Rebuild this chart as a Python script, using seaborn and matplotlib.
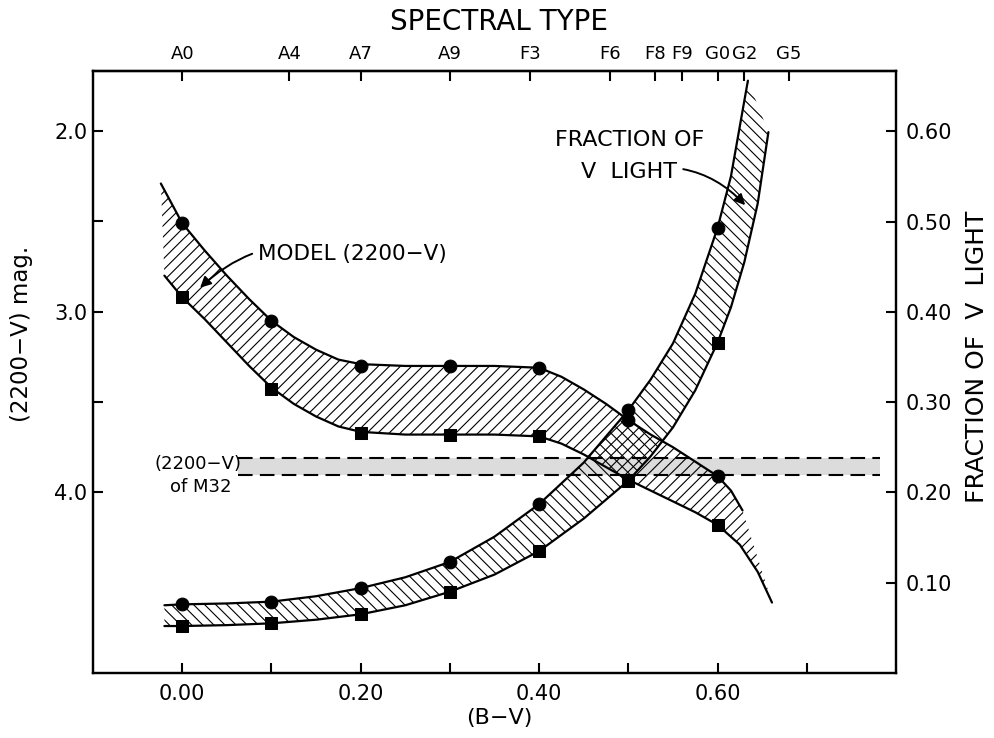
import numpy as np
import matplotlib
matplotlib.use("Agg")
import matplotlib.pyplot as plt
import seaborn as sns

# points (B-V, model 2200-V mag, fraction of V light)
bv = [0.0, 0.1, 0.2, 0.3, 0.4, 0.5, 0.6]
model_circ = [2.51, 3.05, 3.30, 3.30, 3.31, 3.60, 3.91]
model_sq = [2.92, 3.43, 3.67, 3.68, 3.69, 3.93, 4.18]
frac_circ = [0.076, 0.079, 0.094, 0.123, 0.187, 0.291, 0.493]
frac_sq = [0.052, 0.055, 0.065, 0.090, 0.135, 0.213, 0.366]

# traced curves (edges of the hatched bands)
model_up_x = [-0.024, -0.012, 0.0, 0.025, 0.05, 0.075, 0.1, 0.125, 0.15, 0.175, 0.2, 0.25, 0.3,
              0.35, 0.4, 0.425, 0.45, 0.475, 0.5, 0.525, 0.55, 0.575, 0.6, 0.615, 0.628]
model_up = [2.29, 2.40, 2.51, 2.66, 2.80, 2.93, 3.05, 3.14, 3.21, 3.265, 3.29, 3.30, 3.30,
            3.30, 3.31, 3.36, 3.43, 3.51, 3.60, 3.68, 3.75, 3.83, 3.91, 3.99, 4.10]
model_lo_x = [-0.02, 0.0, 0.025, 0.05, 0.075, 0.1, 0.125, 0.15, 0.175, 0.2, 0.25, 0.3, 0.35,
              0.4, 0.425, 0.45, 0.475, 0.5, 0.525, 0.55, 0.575, 0.6, 0.625, 0.645, 0.661]
model_lo = [2.80, 2.92, 3.04, 3.17, 3.30, 3.42, 3.51, 3.58, 3.635, 3.665, 3.68, 3.68, 3.68,
            3.69, 3.73, 3.79, 3.86, 3.93, 3.99, 4.05, 4.11, 4.18, 4.29, 4.44, 4.61]
frac_up_x = [-0.02, 0.0, 0.05, 0.1, 0.15, 0.2, 0.25, 0.3, 0.35, 0.4, 0.45, 0.5, 0.525, 0.55,
             0.575, 0.6, 0.615, 0.634]
frac_up = [0.075, 0.076, 0.077, 0.079, 0.085, 0.094, 0.106, 0.123, 0.151, 0.187, 0.233, 0.291,
           0.325, 0.365, 0.42, 0.493, 0.55, 0.656]
frac_lo_x = [-0.02, 0.0, 0.05, 0.1, 0.15, 0.2, 0.25, 0.3, 0.35, 0.4, 0.45, 0.5, 0.525, 0.55,
             0.575, 0.6, 0.615, 0.63, 0.645, 0.657]
frac_lo = [0.052, 0.052, 0.053, 0.055, 0.059, 0.065, 0.075, 0.090, 0.109, 0.135, 0.171, 0.213,
           0.240, 0.272, 0.313, 0.366, 0.405, 0.455, 0.52, 0.599]

# M32 observed (2200-V) range
m32_x = [0.062, 0.782]
m32_lo, m32_hi = 3.808, 3.906

spec_types = ["A0", "A4", "A7", "A9", "F3", "F6", "F8", "F9", "G0", "G2", "G5"]
spec_bv = [0.0, 0.12, 0.20, 0.30, 0.39, 0.48, 0.53, 0.56, 0.60, 0.63, 0.68]

sns.set_style("ticks")
plt.rcParams["font.family"] = "DejaVu Sans"
plt.rcParams["hatch.linewidth"] = 0.8
for key in ("text.color", "axes.labelcolor", "xtick.color", "ytick.color", "axes.edgecolor"):
    plt.rcParams[key] = "black"

fig = plt.figure(figsize=(9.95, 7.38), dpi=100)
ax = fig.add_axes([0.0935, 0.0881, 0.807, 0.8157])
ax2 = ax.twinx()

# hatched bands
ax.fill(np.concatenate([model_up_x, model_lo_x[::-1]]), np.concatenate([model_up, model_lo[::-1]]),
        facecolor="none", edgecolor="black", hatch="///", linewidth=0)
ax2.fill(np.concatenate([frac_up_x, frac_lo_x[::-1]]), np.concatenate([frac_up, frac_lo[::-1]]),
         facecolor="none", edgecolor="black", hatch="\\\\\\", linewidth=0)

# M32 band
ax.fill_between(m32_x, m32_lo, m32_hi, color="#dcdcdc", linewidth=0, zorder=0)
for yv in (m32_lo, m32_hi):
    ax.plot(m32_x, [yv, yv], color="black", lw=1.5, dashes=(7, 3.5))

for xs, ys in ((model_up_x, model_up), (model_lo_x, model_lo)):
    sns.lineplot(x=xs, y=ys, ax=ax, color="black", lw=1.6, sort=False, estimator=None)
for xs, ys in ((frac_up_x, frac_up), (frac_lo_x, frac_lo)):
    sns.lineplot(x=xs, y=ys, ax=ax2, color="black", lw=1.6, sort=False, estimator=None)

sns.scatterplot(x=bv, y=model_circ, ax=ax, marker="o", s=85, color="black", edgecolor="black", zorder=5)
sns.scatterplot(x=bv, y=model_sq, ax=ax, marker="s", s=85, color="black", edgecolor="black", zorder=5)
sns.scatterplot(x=bv, y=frac_circ, ax=ax2, marker="o", s=85, color="black", edgecolor="black", zorder=5)
sns.scatterplot(x=bv, y=frac_sq, ax=ax2, marker="s", s=85, color="black", edgecolor="black", zorder=5)

ax.set_xlim(-0.1, 0.8)
ax.set_ylim(5.0, 1.667)
ax2.set_ylim(0.0, 0.6667)

ax.set_xticks([0.0, 0.1, 0.2, 0.3, 0.4, 0.5, 0.6, 0.7])
ax.set_xticklabels(["0.00", "", "0.20", "", "0.40", "", "0.60", ""])
ax.set_yticks([2.0, 2.5, 3.0, 3.5, 4.0])
ax.set_yticklabels(["2.0", "", "3.0", "", "4.0"])
ax2.set_yticks([0.1, 0.2, 0.3, 0.4, 0.5, 0.6])
ax2.set_yticklabels(["0.10", "0.20", "0.30", "0.40", "0.50", "0.60"])
ax.set_xlabel("")
ax.set_ylabel("")
ax2.set_ylabel("")

ax.tick_params(axis="x", direction="in", length=7, width=1.5, labelsize=15, pad=8)
ax.tick_params(axis="y", direction="in", length=7, width=1.5, labelsize=15, pad=4, right=False)
ax2.tick_params(axis="y", direction="in", length=7, width=1.5, labelsize=15, pad=7)

top = ax.secondary_xaxis("top")
top.set_xticks(spec_bv)
top.set_xticklabels(spec_types)
top.tick_params(direction="in", length=7, width=1.5, labelsize=13, pad=6)

for a in (ax, ax2):
    for sp in a.spines.values():
        sp.set_linewidth(1.6)
        sp.set_visible(True)
top.spines["top"].set_linewidth(1.6)

# labels
fig.text(0.5015, 0.970, "SPECTRAL TYPE", ha="center", va="center", fontsize=20)
fig.text(0.502, 0.027, "(B\u2212V)", ha="center", va="center", fontsize=16)
fig.text(0.022, 0.548, "(2200\u2212V) mag.", rotation=90, ha="center", va="center", fontsize=16.5)
fig.text(0.982, 0.516, "FRACTION OF  V  LIGHT", rotation=90, ha="center", va="center", fontsize=18)

ax.annotate("MODEL (2200\u2212V)", xy=(0.020, 2.867), xytext=(0.085, 2.68), fontsize=15.5,
            ha="left", va="center",
            arrowprops=dict(arrowstyle="-|>", color="black", lw=1.4, mutation_scale=16,
                            connectionstyle="arc3,rad=0.3", shrinkA=2, shrinkB=0))
ax.text(0.501, 2.05, "FRACTION OF", fontsize=16, ha="center", va="center")
ax.annotate("V  LIGHT", xy=(0.631, 2.41), xytext=(0.501, 2.227), fontsize=16,
            ha="center", va="center",
            arrowprops=dict(arrowstyle="-|>", color="black", lw=1.4, mutation_scale=16,
                            connectionstyle="arc3,rad=-0.3", shrinkA=2, shrinkB=0))
ax.text(0.018, 3.845, "(2200\u2212V)", fontsize=13, ha="center", va="center")
ax.text(0.021, 3.97, "of M32", fontsize=13, ha="center", va="center")

fig.savefig("out.png", dpi=100)
